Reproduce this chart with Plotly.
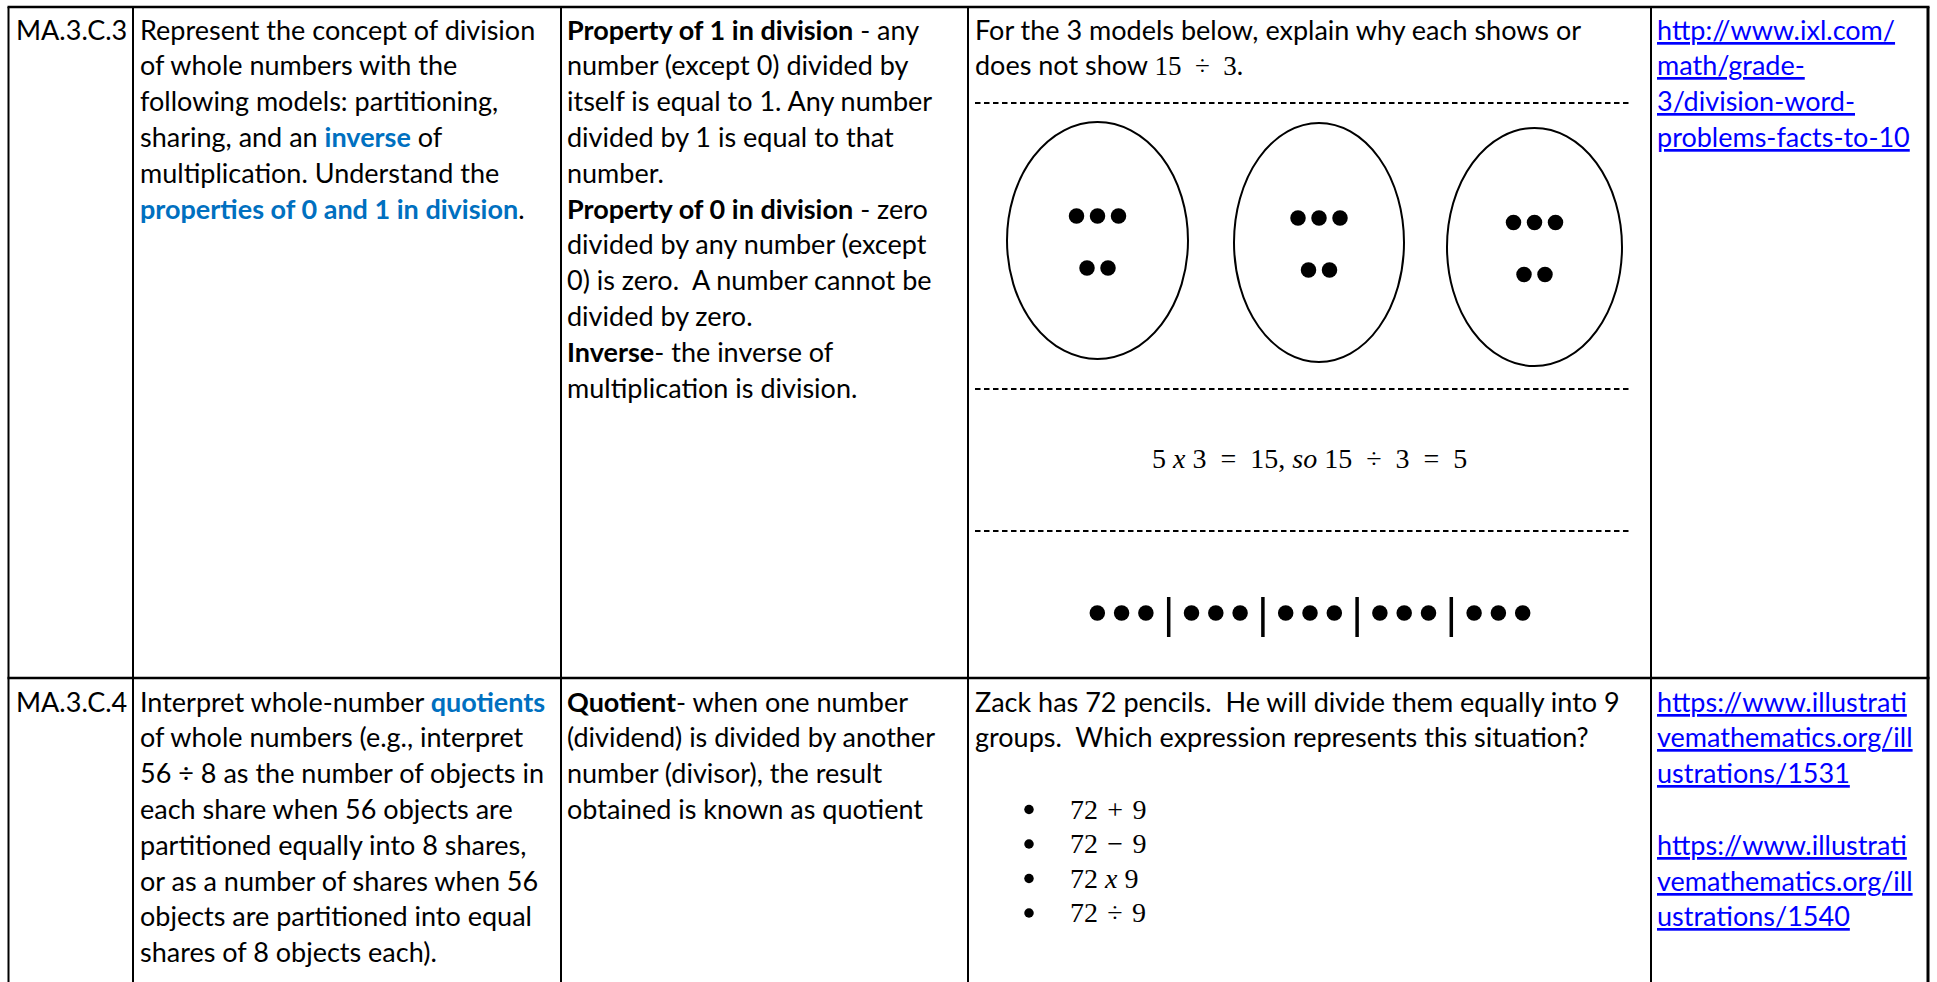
import plotly.graph_objects as go

W, H = 1937, 982

# ---- content -------------------------------------------------------------
codes = ["MA.3.C.3", "MA.3.C.4"]

# {...} = blue bold keyword
standard_lines = [
    ["Represent the concept of division",
     "of whole numbers with the",
     "following models: partitioning,",
     "sharing, and an {inverse} of",
     "multiplication. Understand the",
     "{properties of 0 and 1 in division}."],
    ["Interpret whole-number {quotients}",
     "of whole numbers (e.g., interpret",
     "56 ÷ 8 as the number of objects in",
     "each share when 56 objects are",
     "partitioned equally into 8 shares,",
     "or as a number of shares when 56",
     "objects are partitioned into equal",
     "shares of 8 objects each)."],
]

# [...] = bold term
vocab_lines = [
    ["[Property of 1 in division] - any",
     "number (except 0) divided by",
     "itself is equal to 1. Any number",
     "divided by 1 is equal to that",
     "number.",
     "[Property of 0 in division] - zero",
     "divided by any number (except",
     "0) is zero.  A number cannot be",
     "divided by zero.",
     "[Inverse]- the inverse of",
     "multiplication is division."],
    ["[Quotient]- when one number",
     "(dividend) is divided by another",
     "number (divisor), the result",
     "obtained is known as quotient"],
]

# <...> = math font
problem_lines = [
    ["For the 3 models below, explain why each shows or",
     "does not show <15\u2002÷\u20023>."],
    ["Zack has 72 pencils.  He will divide them equally into 9",
     "groups.  Which expression represents this situation?"],
]

ellipse_rows = [[3, 2], [3, 2], [3, 2]]     # dots per row in each circle
equation = "5 <i>x</i> 3\u2002=\u200215, <i>so</i> 15\u2002÷\u20023\u2002=\u20025"
strip_groups = [3, 3, 3, 3, 3]              # dots per group in the strip model
choices = ["72\u2004+\u20049", "72\u2004\u2212\u20049", "72 <i>x</i> 9", "72\u2004÷\u20049"]

link_lines = [
    ["http://www.ixl.com/", "math/grade-", "3/division-word-", "problems-facts-to-10"],
    ["https://www.illustrati", "vemathematics.org/ill", "ustrations/1531", "",
     "https://www.illustrati", "vemathematics.org/ill", "ustrations/1540"],
]

# ---- layout constants ----------------------------------------------------
col_edges = [8.5, 133, 561, 968, 1651, 1928]
row_top = [7, 678]
first_base = [39.5, 711.5]
step = 35.8
pad = [7, 7, 6, 7, 6]

FONT = "Lato, Carlito, sans-serif"
MATH = "Liberation Serif, DejaVu Serif, serif"
FS = 27
MFS = 28
BLUE_KW = "#0070C0"
LINK = "#0000FF"


def fmt(s):
    s = s.replace("{", f"<span style='color:{BLUE_KW}'><b>").replace("}", "</b></span>")
    s = s.replace("[", "<b>").replace("]", "</b>")
    s = s.replace("<15", f"<span style='font-family:{MATH}'>15").replace("3>", "3</span>")
    return s


annotations = []


def add_text(x, y, text, size=FS, family=FONT, color="black", anchor="left", under=False):
    font = dict(family=family, size=size, color=color)
    if under:
        font["lineposition"] = "under"
    annotations.append(dict(
        x=x, y=y, xref="x", yref="y", text=text, showarrow=False,
        xanchor=anchor, yanchor="middle", borderpad=0, borderwidth=0, font=font))


def line_y(row, i):
    return first_base[row] + i * step - 0.387 * FS


for r in range(2):
    add_text(col_edges[0] + pad[0], line_y(r, 0), codes[r])
    for i, t in enumerate(standard_lines[r]):
        add_text(col_edges[1] + pad[1], line_y(r, i), fmt(t))
    for i, t in enumerate(vocab_lines[r]):
        add_text(col_edges[2] + pad[2], line_y(r, i), fmt(t))
    for i, t in enumerate(problem_lines[r]):
        add_text(col_edges[3] + pad[3], line_y(r, i), fmt(t))
    for i, t in enumerate(link_lines[r]):
        if t:
            add_text(col_edges[4] + pad[4], line_y(r, i), t, color=LINK, under=True)

# equation and multiple choice
add_text(1309.5, 458.5, equation, size=MFS, family=MATH, anchor="center")
choice_y0, choice_step = 809, 34.5
bx, by = [], []
for i, c in enumerate(choices):
    yy = choice_y0 + i * choice_step
    bx.append(1029)
    by.append(yy + 0.5)
    add_text(1070, yy, c, size=MFS, family=MATH)

# ---- shapes --------------------------------------------------------------
shapes = []
for x in col_edges:
    shapes.append(dict(type="line", x0=x, x1=x, y0=row_top[0], y1=H + 5,
                       line=dict(color="black", width=3 if x == col_edges[-1] else 2)))
for y in row_top:
    shapes.append(dict(type="line", x0=col_edges[0] - 1, x1=col_edges[-1] + 1.5, y0=y, y1=y,
                       line=dict(color="black", width=2.5)))

# dashed separators in the problem cell
for y in [103, 389, 531]:
    shapes.append(dict(type="line", x0=975, x1=1631, y0=y, y1=y,
                       line=dict(color="black", width=2, dash="5.5px,3.5px")))

# circles for the sharing model
ellipse_box = [(1007, 1188, 122, 359), (1234, 1404, 123, 362), (1447, 1622, 128, 366)]
for x0, x1, y0, y1 in ellipse_box:
    shapes.append(dict(type="circle", x0=x0, x1=x1, y0=y0, y1=y1,
                       line=dict(color="black", width=2)))

# dots inside circles
dot_step = 21
row_dy = [-24, 28]
dx, dy = [], []
for (x0, x1, y0, y1), rows in zip(ellipse_box, ellipse_rows):
    cx = (x0 + x1) / 2
    cy = (y0 + y1) / 2
    for k, n in enumerate(rows):
        for j in range(n):
            dx.append(cx + (j - (n - 1) / 2) * dot_step)
            dy.append(cy + row_dy[k] - 0.5)

# strip model: groups separated by bars
sx, sy = [], []
strip_x0, strip_y = 1097.3, 613
s_step, bar_gap = 24.3, 22.8
x = strip_x0
for g, n in enumerate(strip_groups):
    for j in range(n):
        sx.append(x)
        sy.append(strip_y)
        x += s_step
    x -= s_step
    if g < len(strip_groups) - 1:
        xb = x + bar_gap
        shapes.append(dict(type="line", x0=xb, x1=xb, y0=597, y1=637,
                           line=dict(color="black", width=3.5)))
        x = xb + bar_gap

fig = go.Figure()
fig.add_trace(go.Scatter(x=dx + sx, y=dy + sy, mode="markers",
                         marker=dict(size=15.5, color="black", line=dict(width=0)),
                         hoverinfo="skip", showlegend=False))
fig.add_trace(go.Scatter(x=bx, y=by, mode="markers",
                         marker=dict(size=9.5, color="black", line=dict(width=0)),
                         hoverinfo="skip", showlegend=False))

fig.update_layout(
    width=W, height=H, autosize=False,
    margin=dict(l=0, r=0, t=0, b=0, pad=0),
    paper_bgcolor="white", plot_bgcolor="white",
    xaxis=dict(range=[0, W], visible=False, fixedrange=True),
    yaxis=dict(range=[H, 0], visible=False, fixedrange=True),
    shapes=shapes, annotations=annotations,
)

fig.write_html("out.html", config={"displayModeBar": False},
               post_script="document.body.style.margin='0';document.body.style.overflow='hidden';")
